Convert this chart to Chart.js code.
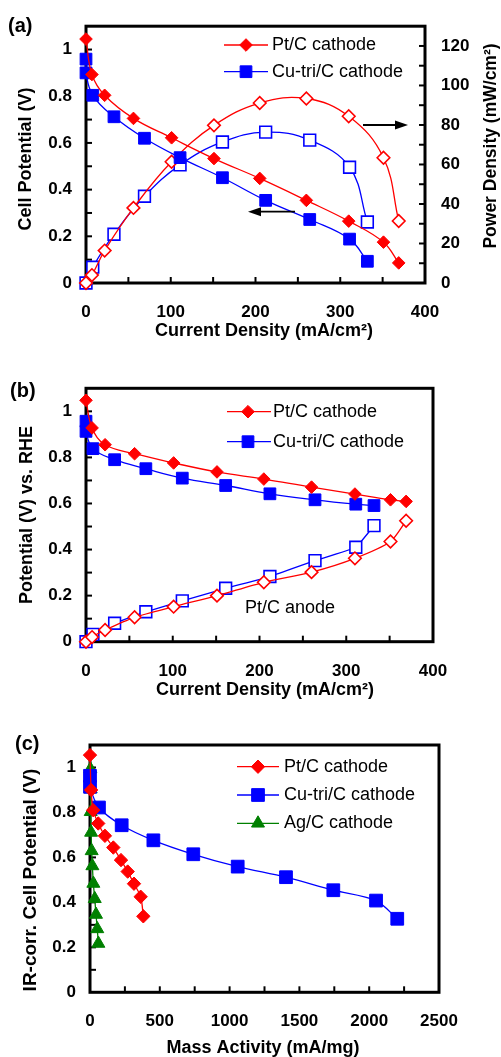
<!DOCTYPE html>
<html><head><meta charset="utf-8">
<script src="https://cdn.jsdelivr.net/npm/chart.js@4.4.1/dist/chart.umd.min.js"></script>
<style>
html,body{margin:0;padding:0;background:#fff;}
body{width:501px;height:1057px;position:relative;overflow:hidden;}
canvas{position:absolute;left:0;}
</style></head><body>
<canvas id="ca" width="501" height="345" style="top:0px"></canvas>
<canvas id="cb" width="501" height="360" style="top:345px"></canvas>
<canvas id="cc" width="501" height="352" style="top:705px"></canvas>
<script>
// ---------- data: panel (a) ----------
const ptCurrent = [0, 7, 22, 56, 101, 151, 205, 260, 310, 351, 369];
const cuCurrent = [0, 0, 8, 33, 69, 111, 161, 212, 264, 311, 332];
const ptCellV = [1.045, 0.893, 0.804, 0.705, 0.622, 0.533, 0.448, 0.354, 0.265, 0.175, 0.086];
const cuCellV = [0.959, 0.900, 0.804, 0.712, 0.620, 0.537, 0.451, 0.354, 0.272, 0.188, 0.093];
const ptPower = [0, 4, 16.4, 38, 61.4, 79.8, 91.1, 93.4, 84.4, 63.4, 31.4];
const cuPowerCurrent = [0, 8, 33, 69, 111, 161, 212, 264, 311, 332];
const cuPower = [0, 8, 24.7, 43.9, 59.8, 71.4, 76.4, 72.3, 58.6, 30.9];
// ---------- data: panel (b) ----------
const ptCathodeRHE = [1.048, 0.928, 0.855, 0.816, 0.776, 0.737, 0.706, 0.671, 0.641, 0.616, 0.609];
const cuCathodeRHE = [0.957, 0.913, 0.838, 0.790, 0.751, 0.710, 0.678, 0.642, 0.616, 0.597, 0.591];
const ptAnodeRHE = [0, 0.02, 0.051, 0.106, 0.152, 0.200, 0.258, 0.302, 0.362, 0.435, 0.525];
const cuAnodeCurrent = [0, 8, 33, 69, 111, 161, 212, 264, 311, 332];
const cuAnodeRHE = [0, 0.032, 0.080, 0.130, 0.177, 0.232, 0.283, 0.352, 0.410, 0.504];
// ---------- data: panel (c) ----------
const ptMass = [0, 8, 23, 59, 107, 167, 222, 270, 315, 363, 382];
const ptIR = [1.055, 0.900, 0.810, 0.751, 0.696, 0.644, 0.588, 0.537, 0.483, 0.425, 0.338];
const cuMass = [0, 0, 64, 227, 454, 740, 1058, 1404, 1743, 2049, 2201];
const cuIR = [0.963, 0.914, 0.822, 0.743, 0.676, 0.614, 0.559, 0.512, 0.454, 0.408, 0.327];
const agMass = [3, 5, 5, 8, 12, 17, 24, 34, 43, 52, 60];
const agIR = [0.993, 0.904, 0.803, 0.711, 0.629, 0.562, 0.484, 0.416, 0.346, 0.282, 0.217];
// ---------- tick labels ----------
const potTicks = [0, 0.2, 0.4, 0.6, 0.8, 1];
const powerTicks = [0, 20, 40, 60, 80, 100, 120];
const currentTicks = [0, 100, 200, 300, 400];
const massTicks = [0, 500, 1000, 1500, 2000, 2500];

const RED = '#ff0000', BLUE = '#0000ff', GREEN = '#008000';
const FONT = '"Liberation Sans", Arial, sans-serif';
const pts = (xs, ys) => xs.map((x, i) => ({x: x, y: ys[i]}));

function ds(label, xs, ys, color, style, radius, open, axis, tension) {
  const d = {
    label: label, data: pts(xs, ys), borderColor: color, borderWidth: 1.3,
    pointStyle: style, pointRadius: radius, pointHoverRadius: radius,
    pointBackgroundColor: open ? '#ffffff' : color, pointBorderColor: color,
    pointBorderWidth: open ? 1.6 : 1, tension: tension, clip: false, fill: false
  };
  if (axis) d.yAxisID = axis;
  return d;
}

function tickScale(min, max, list, pad, opts) {
  return Object.assign({
    type: 'linear', min: min, max: max,
    afterBuildTicks: s => { s.ticks = list.map(v => ({value: v})); },
    ticks: {autoSkip: false, maxRotation: 0, color: '#000', padding: pad,
      font: {family: FONT, size: 17, weight: 'bold'},
      callback: v => String(v)},
    grid: {display: false, drawTicks: false},
    border: {display: false}
  }, opts);
}

function marker(ctx, style, x, y, r, color, open) {
  ctx.save();
  ctx.beginPath();
  if (style === 'rectRot') {
    ctx.moveTo(x, y - r); ctx.lineTo(x + r, y); ctx.lineTo(x, y + r); ctx.lineTo(x - r, y);
  } else if (style === 'rect') {
    const s = r * Math.SQRT1_2; ctx.rect(x - s, y - s, 2 * s, 2 * s);
  } else {
    ctx.moveTo(x, y - r); ctx.lineTo(x + r * 0.866, y + r / 2); ctx.lineTo(x - r * 0.866, y + r / 2);
  }
  ctx.closePath();
  ctx.fillStyle = open ? '#fff' : color; ctx.fill();
  ctx.strokeStyle = color; ctx.lineWidth = 1; ctx.stroke();
  ctx.restore();
}

function text(ctx, str, x, y, size, bold, align, rot) {
  ctx.save();
  ctx.translate(x, y);
  if (rot) ctx.rotate(rot);
  ctx.font = (bold ? 'bold ' : '') + size + 'px ' + FONT;
  ctx.fillStyle = '#000';
  ctx.textAlign = align || 'center';
  ctx.textBaseline = 'middle';
  ctx.fillText(str, 0, 0);
  ctx.restore();
}

function arrow(ctx, x1, y, x2) {
  ctx.save();
  ctx.strokeStyle = '#000'; ctx.fillStyle = '#000'; ctx.lineWidth = 1.8;
  const dir = x2 > x1 ? 1 : -1;
  ctx.beginPath(); ctx.moveTo(x1, y); ctx.lineTo(x2 - dir * 10, y); ctx.stroke();
  ctx.beginPath(); ctx.moveTo(x2, y); ctx.lineTo(x2 - dir * 13, y - 4.5); ctx.lineTo(x2 - dir * 13, y + 4.5);
  ctx.closePath(); ctx.fill();
  ctx.restore();
}

function framePlugin(spec) {
  return {
    id: 'frame',
    beforeDatasetsDraw(chart) {
      const ctx = chart.ctx, a = chart.chartArea;
      ctx.save();
      ctx.strokeStyle = '#000'; ctx.lineWidth = 2;
      ctx.lineCap = 'butt';
      spec.ticks.forEach(t => {
        const s = chart.scales[t.id];
        const n = Math.round((s.max - s.min) / t.step);
        for (let i = 1; i < n; i++) {
          const p = s.getPixelForValue(s.min + i * t.step);
          ctx.beginPath();
          if (t.edge === 'left') { ctx.moveTo(a.left, p); ctx.lineTo(a.left + 6, p); }
          else if (t.edge === 'right') { ctx.moveTo(a.right, p); ctx.lineTo(a.right - 6, p); }
          else { ctx.moveTo(p, a.bottom); ctx.lineTo(p, a.bottom - 6); }
          ctx.stroke();
        }
      });
      ctx.lineWidth = 3;
      ctx.strokeRect(a.left, a.top, a.right - a.left, a.bottom - a.top);
      ctx.restore();
    },
    afterDraw(chart) {
      const ctx = chart.ctx;
      spec.texts.forEach(t => text(ctx, t[0], t[1], t[2], t[3], t[4], t[5], t[6]));
      const L = spec.legend;
      L.items.forEach((it, i) => {
        const y = L.ys[i];
        ctx.save(); ctx.strokeStyle = it.color; ctx.lineWidth = 1.3;
        ctx.beginPath(); ctx.moveTo(L.x1, y); ctx.lineTo(L.x2, y); ctx.stroke(); ctx.restore();
        marker(ctx, it.style, L.xm, y, it.r, it.color, false);
        text(ctx, it.label, L.xt, y, 18, false, 'left');
      });
      (spec.arrows || []).forEach(a => arrow(ctx, a[0], a[1], a[2]));
    }
  };
}

const common = {responsive: false, animation: false, devicePixelRatio: 1,
  plugins: {legend: {display: false}, tooltip: {enabled: false}}, events: []};

// ---------- chart (a) ----------
new Chart(document.getElementById('ca'), {
  type: 'line',
  data: {datasets: [
    ds('Pt/C cathode', ptCurrent, ptCellV, RED, 'rectRot', 6.3, false, 'y', 0.4),
    ds('Cu-tri/C cathode', cuCurrent, cuCellV, BLUE, 'rect', 8.3, false, 'y', 0.4),
    ds('Pt/C power', ptCurrent, ptPower, RED, 'rectRot', 6.3, true, 'y1', 0.4),
    ds('Cu-tri/C power', cuPowerCurrent, cuPower, BLUE, 'rect', 8.3, true, 'y1', 0.4)
  ]},
  options: Object.assign({}, common, {
    layout: {padding: {top: 23, left: 0, right: 0, bottom: 0}},
    scales: {
      x: tickScale(0, 400, currentTicks, 19, {afterFit: s => { s.height = 62; }}),
      y: tickScale(0, 1.1, potTicks, 14, {position: 'left', afterFit: s => { s.width = 86; }}),
      y1: tickScale(0, 130, powerTicks, 16, {position: 'right', afterFit: s => { s.width = 76; }})
    }
  }),
  plugins: [framePlugin({
    ticks: [{id: 'y', step: 0.1, edge: 'left'}, {id: 'y1', step: 10, edge: 'right'}, {id: 'x', step: 50, edge: 'bottom'}],
    texts: [
      ['(a)', 8, 26, 20, true, 'left'],
      ['Cell Potential (V)', 26, 159, 18, true, 'center', -Math.PI / 2],
      ['Power Density (mW/cm\u00B2)', 491, 146, 17.5, true, 'center', -Math.PI / 2],
      ['Current Density (mA/cm\u00B2)', 264, 331, 18, true, 'center']
    ],
    legend: {x1: 224, x2: 268, xm: 246, xt: 272, ys: [45, 71.7], items: [
      {label: 'Pt/C cathode', color: RED, style: 'rectRot', r: 6.3},
      {label: 'Cu-tri/C cathode', color: BLUE, style: 'rect', r: 8.3}]},
    arrows: [[295, 211.7, 248], [363, 125, 408]]
  })]
});

// ---------- chart (b) ----------
new Chart(document.getElementById('cb'), {
  type: 'line',
  data: {datasets: [
    ds('Pt/C cathode', ptCurrent, ptCathodeRHE, RED, 'rectRot', 6.3, false, 'y', 0.4),
    ds('Cu-tri/C cathode', cuCurrent, cuCathodeRHE, BLUE, 'rect', 8.3, false, 'y', 0.4),
    ds('Pt/C anode (Pt)', ptCurrent, ptAnodeRHE, RED, 'rectRot', 6.3, true, 'y', 0.25),
    ds('Pt/C anode (Cu)', cuAnodeCurrent, cuAnodeRHE, BLUE, 'rect', 8.3, true, 'y', 0.1)
  ]},
  options: Object.assign({}, common, {
    layout: {padding: {top: 43.3, left: 0, right: 68, bottom: 0}},
    scales: {
      x: tickScale(0, 400, currentTicks, 19, {afterFit: s => { s.height = 63.3; }}),
      y: tickScale(0, 1.1, potTicks, 14, {position: 'left', afterFit: s => { s.width = 86; }})
    }
  }),
  plugins: [framePlugin({
    ticks: [{id: 'y', step: 0.1, edge: 'left'}, {id: 'x', step: 50, edge: 'bottom'}],
    texts: [
      ['(b)', 10, 46, 20, true, 'left'],
      ['Potential (V) vs. RHE', 27, 170, 18, true, 'center', -Math.PI / 2],
      ['Current Density (mA/cm\u00B2)', 265, 345, 18, true, 'center'],
      ['Pt/C anode', 245, 263.3, 18, false, 'left']
    ],
    legend: {x1: 227, x2: 271, xm: 248, xt: 273, ys: [66.7, 96.7], items: [
      {label: 'Pt/C cathode', color: RED, style: 'rectRot', r: 6.3},
      {label: 'Cu-tri/C cathode', color: BLUE, style: 'rect', r: 8.3}]}
  })]
});

// ---------- chart (c) ----------
new Chart(document.getElementById('cc'), {
  type: 'line',
  data: {datasets: [
    ds('Pt/C cathode', ptMass, ptIR, RED, 'rectRot', 6.7, false, 'y', 0.3),
    ds('Cu-tri/C cathode', cuMass, cuIR, BLUE, 'rect', 9, false, 'y', 0.3),
    ds('Ag/C cathode', agMass, agIR, GREEN, 'triangle', 7.5, false, 'y', 0.3)
  ]},
  options: Object.assign({}, common, {
    layout: {padding: {top: 40, left: 0, right: 62, bottom: 0}},
    scales: {
      x: tickScale(0, 2500, massTicks, 19, {afterFit: s => { s.height = 64.7; }}),
      y: tickScale(0, 1.1, potTicks, 14, {position: 'left', afterFit: s => { s.width = 90; }})
    }
  }),
  plugins: [framePlugin({
    ticks: [{id: 'y', step: 0.1, edge: 'left'}, {id: 'x', step: 250, edge: 'bottom'}],
    texts: [
      ['(c)', 15, 39, 20, true, 'left'],
      ['IR-corr. Cell Potential (V)', 31, 175, 19, true, 'center', -Math.PI / 2],
      ['Mass Activity (mA/mg)', 263, 343, 18, true, 'center']
    ],
    legend: {x1: 237, x2: 279, xm: 258, xt: 284, ys: [61.7, 90, 118.3], items: [
      {label: 'Pt/C cathode', color: RED, style: 'rectRot', r: 6.7},
      {label: 'Cu-tri/C cathode', color: BLUE, style: 'rect', r: 9},
      {label: 'Ag/C cathode', color: GREEN, style: 'triangle', r: 7.5}]}
  })]
});
</script>
</body></html>
